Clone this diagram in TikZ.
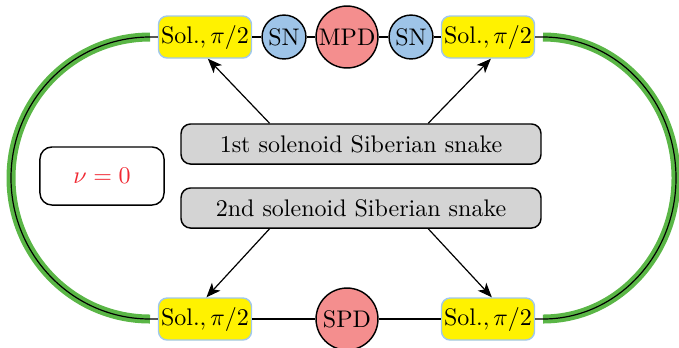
\documentclass[tikz,border=0pt]{standalone}
\usetikzlibrary{arrows.meta,calc}
\definecolor{solyellow}{RGB}{255,242,0}
\definecolor{solborder}{RGB}{160,200,235}
\definecolor{snblue}{RGB}{158,196,232}
\definecolor{pdred}{RGB}{244,142,142}
\definecolor{boxgray}{RGB}{212,212,212}
\definecolor{ringgreen}{RGB}{90,182,70}
\definecolor{tunered}{RGB}{240,40,50}
\begin{document}
\begin{tikzpicture}[x=0.4167pt,y=0.4167pt,line width=0.6pt,
  sol/.style={draw=solborder,fill=solyellow,rounded corners=3.6pt,
    minimum width=38.75pt,minimum height=17.5pt,inner sep=1pt},
  sn/.style={circle,draw,fill=snblue,minimum size=18.3pt,inner sep=0pt},
  pd/.style={circle,draw,fill=pdred,minimum size=25.8pt,inner sep=0pt},
  snakebox/.style={draw,fill=boxgray,rounded corners=4pt,
    minimum width=150pt,minimum height=16.7pt,inner sep=1pt},
  tunebox/.style={draw,rounded corners=5pt,minimum width=51.7pt,
    minimum height=24.2pt,text=tunered},
  link/.style={line width=0.5pt},
  kick/.style={-{Stealth[length=6pt,width=4.8pt,inset=1.6pt]},line width=0.5pt},
  ring/.style={line width=3.75pt,draw=ringgreen}
]
\useasboundingbox (0,0) rectangle (679,347);

% top straight section
\node[sol] (solTL) at (205,310) {Sol.$,\pi/2$};
\node[sn]  (snL)   at (284,310) {SN};
\node[pd]  (mpd)   at (347,310) {MPD};
\node[sn]  (snR)   at (411,310) {SN};
\node[sol] (solTR) at (488,310) {Sol.$,\pi/2$};

% bottom straight section
\node[sol] (solBL) at (205,28) {Sol.$,\pi/2$};
\node[pd]  (spd)   at (347,28) {SPD};
\node[sol] (solBR) at (488,28) {Sol.$,\pi/2$};

% labels in the middle
\node[snakebox] (first)  at (361,203) {1st solenoid Siberian snake};
\node[snakebox] (second) at (361,139) {2nd solenoid Siberian snake};
\node[tunebox]  (tune)   at (102,171) {$\nu=0$};

% arc end points
\coordinate (aTL) at (150,310);
\coordinate (aBL) at (150,28);
\coordinate (aTR) at (543,310);
\coordinate (aBR) at (543,28);

% bending arcs
\draw[ring] (aTL) arc[start angle=90,end angle=270,x radius=139,y radius=141];
\draw[ring] (aTR) arc[start angle=90,end angle=-90,x radius=133,y radius=141];
\draw[link] (solTL.west) -- (aTL)
  arc[start angle=90,end angle=270,x radius=139,y radius=141] -- (solBL.west);
\draw[link] (solTR.east) -- (aTR)
  arc[start angle=90,end angle=-90,x radius=133,y radius=141] -- (solBR.east);

% beam line in the straight sections
\draw[link] (solTL) -- (snL);
\draw[link] (snL) -- (mpd);
\draw[link] (mpd) -- (snR);
\draw[link] (snR) -- (solTR);
\draw[link] (solBL) -- (spd);
\draw[link] (spd) -- (solBR);

% snake arrows
\draw[kick] ($(first.north west)!0.247!(first.north east)$) -- ([xshift=1.2pt]solTL.south);
\draw[kick] ($(first.north west)!0.686!(first.north east)$) -- ([xshift=1.2pt]solTR.south);
\draw[kick] ($(second.south west)!0.247!(second.south east)$) -- ([xshift=0.6pt]solBL.north);
\draw[kick] ($(second.south west)!0.686!(second.south east)$) -- ([xshift=1.6pt]solBR.north);
\end{tikzpicture}
\end{document}
